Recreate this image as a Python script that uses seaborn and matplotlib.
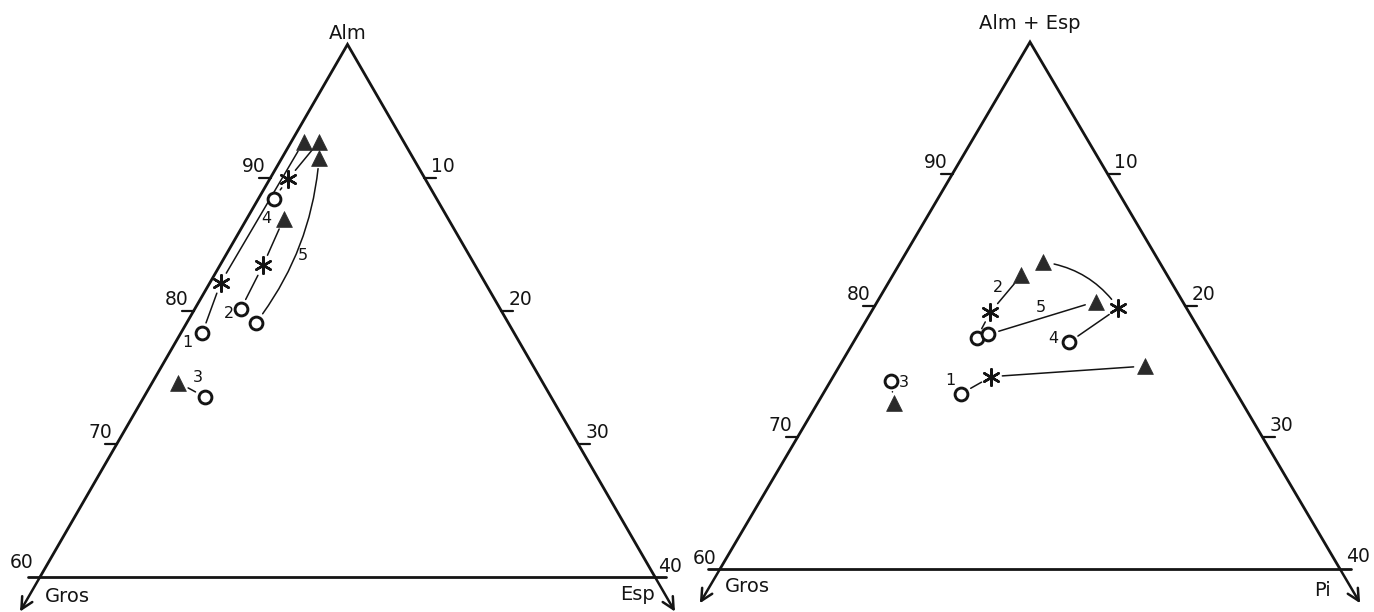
import numpy as np
import pandas as pd
import matplotlib
matplotlib.use("Agg")
import matplotlib.pyplot as plt
import seaborn as sns

# ---------------- data (mol %) ----------------
# zone: c = core (circle), m = intermediate (asterisk), r = rim (triangle)
# Left diagram: Alm - Gros - Esp (Alm apex, 60-100)
left_sample = ['1', '1', '1', '2', '2', '2', '3', '3', '4', '4', '4', '5', '5']
left_zone = ['c', 'm', 'r', 'c', 'm', 'r', 'c', 'r', 'c', 'm', 'r', 'c', 'r']
left_gros = [20.3, 17.2, 6.5, 16.9, 13.8, 10.7, 22.5, 23.7, 10.6, 8.9, 5.5, 16.4, 6.1]
left_esp = [1.4, 0.7, 0.8, 3.0, 2.8, 2.4, 4.0, 1.7, 1.0, 1.2, 1.8, 4.5, 2.4]

# Right diagram: (Alm + Esp) - Gros - Pi
right_sample = ['1', '1', '1', '2', '2', '2', '3', '3', '4', '4', '4', '5', '5']
right_zone = ['c', 'm', 'r', 'c', 'm', 'r', 'c', 'r', 'c', 'm', 'r', 'c', 'r']
right_gros = [17.8, 15.2, 4.9, 14.7, 12.8, 9.4, 21.8, 22.5, 8.9, 4.4, 7.5, 13.8, 5.6]
right_pi = [8.9, 10.2, 19.7, 7.8, 7.7, 8.3, 3.9, 4.9, 13.9, 15.8, 9.2, 8.4, 14.1]

left_edge_ticks = [70, 80, 90]     # apex component
right_edge_ticks = [10, 20, 30]    # right-corner component

# links between zones of the same sample: (from, to, curvature)
left_links = [(0, 1, 0.0), (1, 2, 0.0), (3, 4, 0.0), (4, 5, 0.0), (7, 6, 0.0),
              (8, 9, 0.0), (9, 10, 0.0), (11, 12, 0.15)]
right_links = [(0, 1, 0.0), (1, 2, 0.0), (3, 4, 0.0), (4, 5, 0.0), (6, 7, 0.0),
               (8, 9, 0.0), (9, 10, 0.22), (11, 12, 0.0)]
# sample number labels: (text, anchor point, offset in pixels)
left_labels = [('1', 0, (-15, -9)), ('2', 3, (-12, -4)), ('3', 7, (19, 5)),
               ('4', 8, (-7, -20)), ('5', 11, (47, 67))]
right_labels = [('1', 0, (-11, 13)), ('2', 5, (-24, -12)), ('3', 6, (13, -2)),
                ('4', 8, (-15, 4)), ('5', 11, (53, 27))]

INK = '#141414'
H = np.sqrt(3) / 2


def to_xy(gros, other):
    g = np.asarray(gros) / 40.0
    t = np.asarray(other) / 40.0
    top = 1 - g - t
    return 0.5 * top + t, H * top


sns.set_theme(style="white")
plt.rcParams['font.family'] = ['DejaVu Sans']

fig = plt.figure(figsize=(13.74, 6.12), dpi=100)
fig.patch.set_facecolor('white')


def make_axes(px0, px1, base_x, base_w, base_y_top, unit_y):
    W, Hpx = 1374.0, 612.0
    ax = fig.add_axes([px0 / W, 0, (px1 - px0) / W, 1])
    ax.set_xlim((px0 - base_x) / base_w, (px1 - base_x) / base_w)
    yb = Hpx - base_y_top
    ax.set_ylim(-yb / unit_y, (Hpx - yb) / unit_y)
    ax.set_axis_off()
    return ax


def frame(ax, top_lab, left_lab, right_lab, corner_l, corner_r,
          top_off, lab_offsets, unit):
    A = np.array([0.5, H]); G = np.array([0.0, 0.0]); E = np.array([1.0, 0.0])
    ax.plot([G[0], A[0], E[0]], [G[1], A[1], E[1]], color=INK, lw=2.0,
            solid_joinstyle='miter')
    ax.plot([-0.02, 1.018], [0, 0], color=INK, lw=2.0)
    ext = 0.065
    for P, d in [(G, (G - A)), (E, (E - A))]:
        d = d / np.linalg.norm(d)
        ax.annotate('', xy=P + ext * d, xytext=P,
                    arrowprops=dict(arrowstyle='->,head_length=0.7,head_width=0.35',
                                    lw=1.8, color=INK, shrinkA=0, shrinkB=0))
    tl = 12.0 / unit
    for v in left_edge_ticks:
        P = A + (100 - v) / 40 * (G - A)
        ax.plot([P[0] - tl, P[0]], [P[1], P[1]], color=INK, lw=1.6)
        ax.annotate(str(v), xy=P, xytext=(-5, 2), textcoords='offset pixels',
                    ha='right', va='bottom', fontsize=13.5, color=INK)
    for v in right_edge_ticks:
        P = A + v / 40 * (E - A)
        ax.plot([P[0], P[0] + tl], [P[1], P[1]], color=INK, lw=1.6)
        ax.annotate(str(v), xy=P, xytext=(7, 2), textcoords='offset pixels',
                    ha='left', va='bottom', fontsize=13.5, color=INK)
    ax.annotate(top_lab, xy=A, xytext=(0, top_off), textcoords='offset pixels',
                ha='center', va='center', fontsize=14, color=INK)
    (o60, o40, ogl, ogr) = lab_offsets
    ax.annotate(corner_l, xy=G, xytext=o60, textcoords='offset pixels',
                ha='center', va='center', fontsize=13.5, color=INK)
    ax.annotate(corner_r, xy=E, xytext=o40, textcoords='offset pixels',
                ha='center', va='center', fontsize=13.5, color=INK)
    ax.annotate(left_lab, xy=G, xytext=ogl, textcoords='offset pixels',
                ha='center', va='center', fontsize=14, color=INK)
    ax.annotate(right_lab, xy=E, xytext=ogr, textcoords='offset pixels',
                ha='center', va='center', fontsize=14, color=INK)


def points(ax, sample, zone, gros, other, links, labels):
    x, y = to_xy(gros, other)
    df = pd.DataFrame({'x': x, 'y': y, 'sample': sample, 'zone': zone})
    for i, j, rad in links:
        ax.annotate('', xy=(x[j], y[j]), xytext=(x[i], y[i]),
                    arrowprops=dict(arrowstyle='-', lw=1.1, color=INK,
                                    shrinkA=8, shrinkB=8,
                                    connectionstyle='arc3,rad=%s' % rad))
    c = df[df.zone == 'c']
    m = df[df.zone == 'm']
    r = df[df.zone == 'r']
    sns.scatterplot(data=c, x='x', y='y', marker='o', s=85, color='white',
                    edgecolor=INK, linewidth=2.1, ax=ax, zorder=5, legend=False)
    sns.scatterplot(data=r, x='x', y='y', marker='^', s=130, color='#2a2a2a',
                    edgecolor='#2a2a2a', linewidth=0.5, ax=ax, zorder=5, legend=False)
    sns.scatterplot(data=m, x='x', y='y', marker=(6, 2, 0), s=140, color=INK,
                    edgecolor=INK, linewidth=1.8, ax=ax, zorder=5, legend=False)
    for txt, k, off in labels:
        ax.annotate(txt, xy=(x[k], y[k]), xytext=off, textcoords='offset pixels',
                    ha='center', va='center', fontsize=11.5, color=INK)
    ax.set_xlabel(''); ax.set_ylabel('')


axL = make_axes(0, 687, 40, 615, 577, 615)
frame(axL, 'Alm', 'Gros', 'Esp', '60', '40', 11,
      [(-18, 14), (15, 11), (27, -20), (-18, -17)], 615)
points(axL, left_sample, left_zone, left_gros, left_esp, left_links, left_labels)
axL.set_axis_off()

axR = make_axes(687, 1374, 720, 620, 569, 608.5)
frame(axR, 'Alm + Esp', 'Gros', 'Pi', '60', '40', 19,
      [(-15, 11), (18, 13), (27, -17), (-18, -22)], 620)
points(axR, right_sample, right_zone, right_gros, right_pi, right_links, right_labels)
axR.set_axis_off()

fig.savefig('out.png', dpi=100, facecolor='white')
